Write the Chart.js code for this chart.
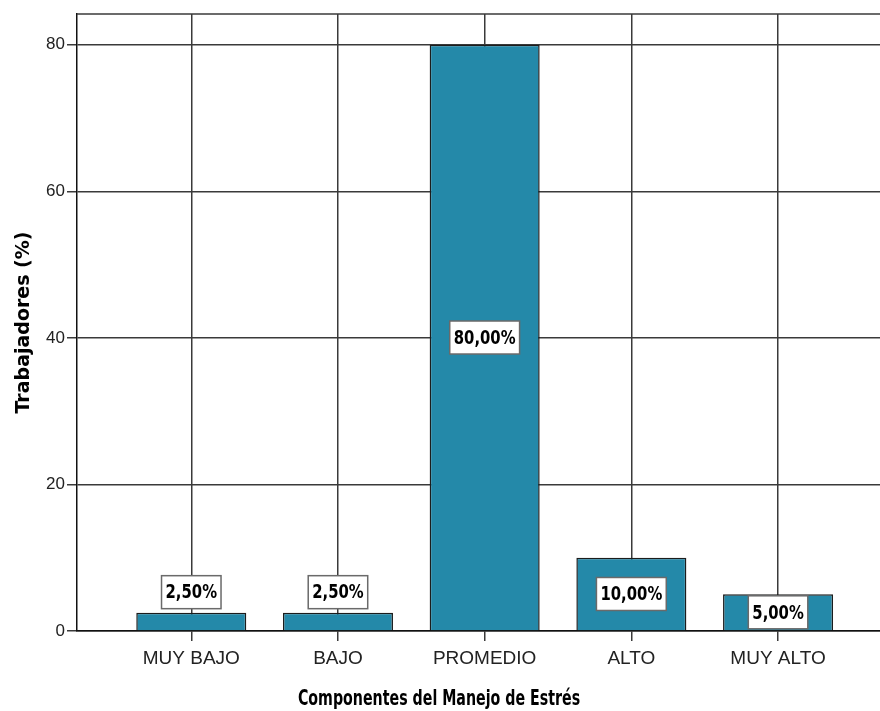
<!DOCTYPE html>
<html>
<head>
<meta charset="utf-8">
<script src="https://cdn.jsdelivr.net/npm/chart.js@4.4.1/dist/chart.umd.min.js"></script>
<style>
    html, body { margin: 0; padding: 0; background: #ffffff; overflow: hidden; }
    #wrap { width: 880px; height: 711px; position: relative; }
</style>
</head>
<body>
<div id="wrap"><canvas id="stressChart"></canvas></div>
<script>
const categories = ["MUY BAJO", "BAJO", "PROMEDIO", "ALTO", "MUY ALTO"];
const percentages = [2.5, 2.5, 80, 10, 5];
const yTicks = [0, 20, 40, 60, 80];
const xTitle = "Componentes del Manejo de Estrés";
const yTitle = "Trabajadores (%)";

const BAR_COLOR = "#2489a9";
const GRID_COLOR = "#3a3a3a";
const NARROW_BOLD = "'Liberation Sans Narrow', 'DejaVu Sans Condensed', sans-serif";

function formatPct(v) {
    return v.toFixed(2).replace(".", ",") + "%";
}

// text in the source is a bit stretched vertically, so draw it scaled
function tallText(ctx, text, x, y, stretch) {
    ctx.save();
    ctx.translate(x, y);
    ctx.scale(1, stretch);
    ctx.fillText(text, 0, 0);
    ctx.restore();
}

// top border of the plot frame (no right border visible in the source)
const frameTop = {
    id: "frameTop",
    beforeDatasetsDraw(chart) {
        const { ctx, chartArea } = chart;
        ctx.save();
        ctx.strokeStyle = GRID_COLOR;
        ctx.lineWidth = 1.5;
        ctx.beginPath();
        ctx.moveTo(chartArea.left, chartArea.top);
        ctx.lineTo(chartArea.right, chartArea.top);
        ctx.stroke();
        ctx.restore();
    }
};

// boxed value labels: inside the bar when it fits, above it otherwise
const boxLabels = {
    id: "boxLabels",
    afterDatasetsDraw(chart) {
        const { ctx } = chart;
        const meta = chart.getDatasetMeta(0);
        ctx.save();
        ctx.font = "bold 16.5px " + NARROW_BOLD;
        ctx.textAlign = "center";
        ctx.textBaseline = "middle";
        meta.data.forEach((bar, i) => {
            const text = formatPct(percentages[i]);
            const w = ctx.measureText(text).width + 8;
            const h = 33;
            const barH = bar.base - bar.y;
            const cy = barH > h ? (bar.y + bar.base) / 2 : bar.y - 4 - h / 2;
            ctx.fillStyle = "#ffffff";
            ctx.strokeStyle = "#6a6a6a";
            ctx.lineWidth = 1.5;
            ctx.fillRect(bar.x - w / 2, cy - h / 2, w, h);
            ctx.strokeRect(bar.x - w / 2, cy - h / 2, w, h);
            ctx.fillStyle = "#000000";
            tallText(ctx, text, bar.x, cy + 1, 1.22);
        });
        ctx.restore();
    }
};

// x axis title drawn by hand so it can be stretched like the source
const xAxisTitle = {
    id: "xAxisTitle",
    afterDraw(chart) {
        const { ctx } = chart;
        ctx.save();
        ctx.font = "bold 15.8px 'DejaVu Sans Condensed', 'DejaVu Sans', sans-serif";
        ctx.textAlign = "center";
        ctx.textBaseline = "middle";
        ctx.fillStyle = "#000000";
        tallText(ctx, xTitle, 439, 700, 1.3);
        ctx.restore();
    }
};

const ctx = document.getElementById("stressChart").getContext("2d");

new Chart(ctx, {
    type: "bar",
    data: {
        datasets: [{
            data: percentages.map((v, i) => ({ x: i + 1, y: v })),
            backgroundColor: BAR_COLOR,
            borderColor: "#1c1c1c",
            borderWidth: 1.5,
            categoryPercentage: 1,
            barPercentage: 0.75
        }]
    },
    plugins: [frameTop, boxLabels, xAxisTitle],
    options: {
        responsive: true,
        maintainAspectRatio: false,
        animation: false,
        layout: {
            padding: { top: 14, right: 0, bottom: 0, left: 0 }
        },
        plugins: {
            legend: { display: false },
            tooltip: { enabled: false }
        },
        scales: {
            x: {
                type: "linear",
                offset: false,
                min: 0.221,
                max: 5.695,
                afterBuildTicks(axis) {
                    axis.ticks = categories.map((c, i) => ({ value: i + 1 }));
                },
                afterFit(axis) {
                    axis.height = 80;
                },
                ticks: {
                    color: "#222222",
                    padding: 6,
                    maxRotation: 0,
                    autoSkip: false,
                    font: { family: "'Liberation Sans', Arial, sans-serif", size: 19 },
                    callback: value => categories[value - 1]
                },
                grid: {
                    offset: false,
                    color: GRID_COLOR,
                    lineWidth: 1.5,
                    drawTicks: true,
                    tickLength: 10
                },
                border: { display: true, color: "#111111", width: 1.5 },
                title: { display: false }
            },
            y: {
                min: 0,
                max: 84.2,
                afterBuildTicks(axis) {
                    axis.ticks = yTicks.map(v => ({ value: v }));
                },
                afterFit(axis) {
                    axis.width = 77;
                },
                ticks: {
                    color: "#222222",
                    padding: 2,
                    font: { family: "'Liberation Sans', Arial, sans-serif", size: 17 }
                },
                grid: {
                    color: GRID_COLOR,
                    lineWidth: 1.5,
                    drawTicks: true,
                    tickLength: 10
                },
                border: { display: true, color: "#111111", width: 1.5 },
                title: {
                    display: true,
                    text: yTitle,
                    color: "#000000",
                    padding: { top: 13, bottom: 0 },
                    font: { family: "'DejaVu Sans', sans-serif", size: 19, weight: "bold", lineHeight: 1.2 }
                }
            }
        }
    }
});
</script>
</body>
</html>
